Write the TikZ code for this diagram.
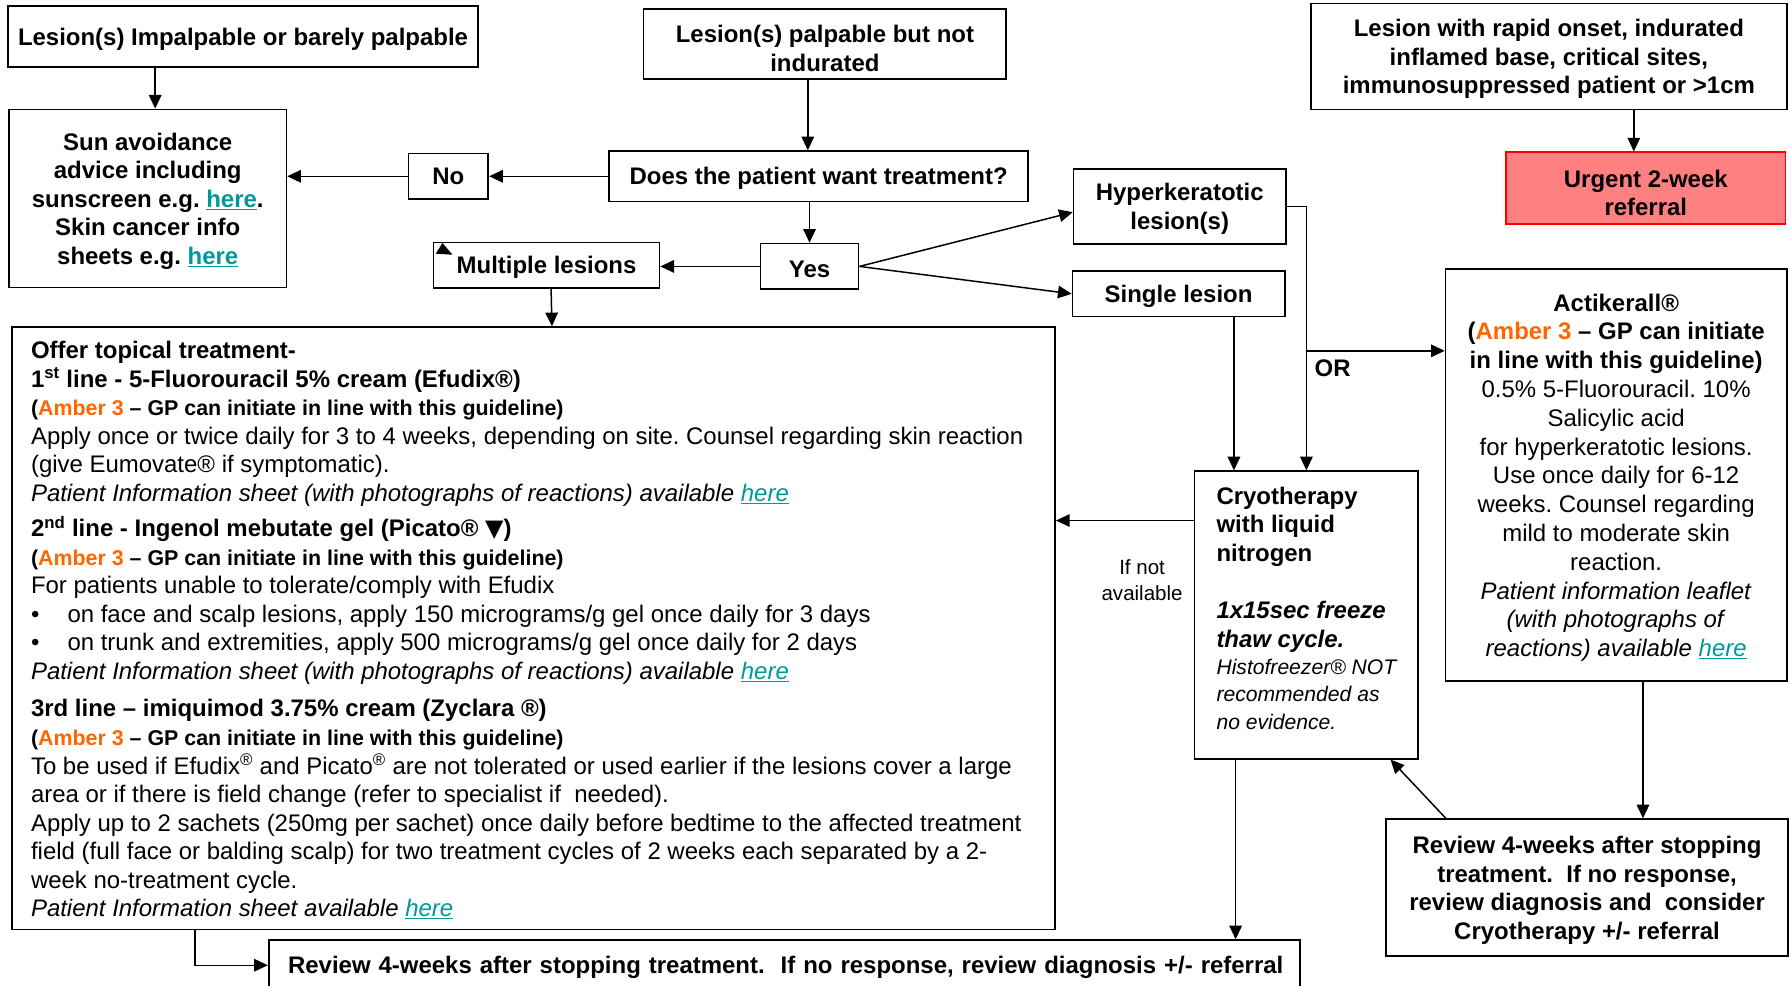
\documentclass[tikz,border=0pt]{standalone}
\usepackage{fontspec}
\setmainfont{Liberation Sans}
\newfontfamily\trifont{DejaVu Sans}
\usetikzlibrary{arrows.meta,calc}
\definecolor{linkteal}{RGB}{0,153,153}
\definecolor{amber}{RGB}{255,102,0}
\definecolor{urgentfill}{RGB}{255,128,128}
\newcommand{\linkhere}{\textcolor{linkteal}{\underline{here}}}
\newcommand{\amberline}{{\fontsize{18.75}{25}\selectfont\bfseries(\textcolor{amber}{Amber 3} – GP can initiate in line with this guideline)}}
\newcommand{\smallital}[1]{{\fontsize{18.5}{24}\selectfont\itshape #1}}

\begin{document}
\frenchspacing
\begin{tikzpicture}[x=1pt,y=1pt,yscale=-1,xscale=1,
  boxnode/.style={draw, line width=1.5pt, inner sep=0pt, align=center, text depth=-2pt, font=\fontsize{21}{25}\selectfont\bfseries},
  lbl/.style={inner sep=0pt, font=\fontsize{21}{25}\selectfont},
  arr/.style={line width=1.3pt, -{Triangle[length=12pt,width=11pt]}}]
\clip (0,0) rectangle (1568,864);

%Shape: Rectangle
\node [boxnode, minimum width=412, minimum height=54] (imp) at (213,32) {Lesion(s) Impalpable or barely palpable};
%Shape: Rectangle
\node [boxnode, minimum width=243, minimum height=156] (sun) at (129.5,174) {Sun avoidance\\advice including\\sunscreen e.g. \linkhere.\\Skin cancer info\\sheets e.g. \linkhere};
%Shape: Rectangle
\node [boxnode, text height=48pt, text depth=0pt, minimum width=318, minimum height=61] (palp) at (723,38.5) {Lesion(s) palpable but not\\indurated};
%Shape: Rectangle
\node [boxnode, minimum width=367, minimum height=44] (want) at (717.5,154.5) {Does the patient want treatment?};
%Shape: Rectangle
\node [boxnode, minimum width=70, minimum height=40] (no) at (393,154.5) {No};
%Shape: Rectangle
\node [boxnode, text height=19pt, text depth=0pt, minimum width=86, minimum height=40] (yes) at (709.5,233.5) {Yes};
%Shape: Rectangle
\node [boxnode, text depth=-5pt, minimum width=198, minimum height=40] (multi) at (479,232.5) {Multiple lesions};
%Shape: Rectangle
\node [boxnode, minimum width=186, minimum height=66] (hyper) at (1034,181) {Hyperkeratotic\\lesion(s)};
%Shape: Rectangle
\node [boxnode, minimum width=186, minimum height=40] (single) at (1033,257.5) {Single lesion};
%Shape: Rectangle
\node [boxnode, text depth=0pt, minimum width=417, minimum height=93] (rapid) at (1357.5,49.5) {Lesion with rapid onset, indurated\\inflamed base, critical sites,\\immunosuppressed patient or >1cm};
%Shape: Rectangle
\node [boxnode, text height=48pt, text depth=0pt, draw=red, fill=urgentfill, minimum width=245, minimum height=63] (urgent) at (1442.5,165) {Urgent 2-week\\referral};
%Shape: Rectangle
\node [boxnode, text depth=0pt, minimum width=299, minimum height=361, font=\fontsize{21}{25.25}\selectfont] (acti) at (1416.5,416.5) {%
\textbf{Actikerall®}\\
\textbf{(\textcolor{amber}{Amber 3} – GP can initiate}\\
\textbf{in line with this guideline)}\\
0.5\% 5-Fluorouracil. 10\%\\
Salicylic acid\\
for hyperkeratotic lesions.\\
Use once daily for 6-12\\
weeks. Counsel regarding\\
mild to moderate skin\\
reaction.\\
\textit{Patient information leaflet}\\
\textit{(with photographs of}\\
\textit{reactions) available \linkhere}};
%Shape: Rectangle
\node [boxnode, align=left, text depth=12pt, minimum width=196, minimum height=252, font=\fontsize{21}{25}\selectfont] (cryo) at (1145,539) {%
\textbf{Cryotherapy}\\
\textbf{with liquid}\\
\textbf{nitrogen}\\[25pt]
\textbf{\textit{1x15sec freeze}}\\
\textbf{\textit{thaw cycle.}}\\[-1pt]
\smallital{Histofreezer® NOT}\\[-1pt]
\smallital{recommended as}\\[-1pt]
\smallital{no evidence.}};
%Shape: Rectangle
\node [boxnode, minimum width=352, minimum height=120] (review2) at (1391,778) {Review 4-weeks after stopping\\treatment.\ \ If no response,\\review diagnosis and\ \ consider\\Cryotherapy +/- referral};
%Shape: Rectangle
\node [boxnode, minimum width=904, minimum height=44, text width=870, inner xsep=17, align=left] (review1) at (687.5,846) {\mbox{Review 4-weeks after stopping treatment.\ \ If no response, review diagnosis +/- referral}};
%Shape: Rectangle
\node [boxnode, anchor=north west, minimum width=914, minimum height=528] (offer) at (10,286) {};

% Text Node
\node [lbl, anchor=north west, align=left] (offertxt) at (27,299) {%
\textbf{Offer topical treatment-}\\
\textbf{1\textsuperscript{st} line - 5-Fluorouracil 5\% cream (Efudix®)}\\
\amberline\\
Apply once or twice daily for 3 to 4 weeks, depending on site. Counsel regarding skin reaction\\
(give Eumovate® if symptomatic).\\
\textit{Patient Information sheet (with photographs of reactions) available \linkhere}\\[6pt]
\textbf{2\textsuperscript{nd} line - Ingenol mebutate gel (Picato® {\trifont ▼})}\\
\amberline\\
For patients unable to tolerate/comply with Efudix\\
\makebox[32pt][l]{\textbullet}on face and scalp lesions, apply 150 micrograms/g gel once daily for 3 days\\
\makebox[32pt][l]{\textbullet}on trunk and extremities, apply 500 micrograms/g gel once daily for 2 days\\
\textit{Patient Information sheet (with photographs of reactions) available \linkhere}\\[8pt]
\textbf{3rd line – imiquimod 3.75\% cream (Zyclara ®)}\\
\amberline\\
To be used if Efudix\textsuperscript{®} and Picato\textsuperscript{®} are not tolerated or used earlier if the lesions cover a large\\
area or if there is field change (refer to specialist if\ \ needed).\\
Apply up to 2 sachets (250mg per sachet) once daily before bedtime to the affected treatment\\
field (full face or balding scalp) for two treatment cycles of 2 weeks each separated by a 2-\\
week no-treatment cycle.\\
\textit{Patient Information sheet available \linkhere}};
% Text Node
\node [lbl, font=\fontsize{21}{25}\selectfont\bfseries] (orlbl) at (1168,323) {OR};
% Text Node
\node [lbl, align=center, font=\fontsize{18}{23}\selectfont] (nalbl) at (1001,508.5) {If not\\available};

%Straight Lines
\draw [arr] ([xshift=-77pt]imp.south) -- ([xshift=6.5pt]sun.north);
\draw [arr] ([xshift=-15pt]palp.south) -- ([xshift=-9.5pt]want.north);
\draw [arr] (want.west) -- (no.east);
\draw [arr] (no.west) -- (no.west -| sun.east);
\draw [arr] ([xshift=-8pt]want.south) -- (yes.north);
\draw [arr] (yes.west) -- (yes.west -| multi.east);
\draw [arr] ([xshift=4pt]multi.south) -- ([xshift=16pt]offer.north);
\draw [arr] (yes.east) -- ($(hyper.west)+(0,5)$);
\draw [arr] (yes.east) -- (single.west);
\draw [arr] (hyper.east) -| (cryo.north);
\draw [arr] ([xshift=48.5pt]single.south) -- ([xshift=-63.5pt]cryo.north);
\coordinate (orfork) at (1145,307.5);
\draw [arr] (orfork) -- (orfork -| acti.west);
\coordinate (cryoout) at ($(cryo.north west)+(0,44)$);
\draw [arr] (cryoout) -- (cryoout -| offer.east);
\draw [arr] ([xshift=-62pt]cryo.south) -- ([xshift=395.5pt]review1.north);
\draw [arr] ([xshift=74.5pt]rapid.south) -- ([xshift=-10.5pt]urgent.north);
\draw [arr] ([xshift=23.5pt]acti.south) -- ([xshift=49pt]review2.north);
\draw [arr] ([xshift=53pt]review2.north west) -- ([xshift=-25pt]cryo.south east);
\draw [arr] ([xshift=-297pt]offer.south) |- (review1.west);
%Shape: Triangle
\fill ($(multi.north west)+(8.6,1.2)$) -- ($(multi.north west)+(2.7,10.6)$) -- ($(multi.north west)+(17.3,11.5)$) -- cycle;

\end{tikzpicture}
\end{document}
